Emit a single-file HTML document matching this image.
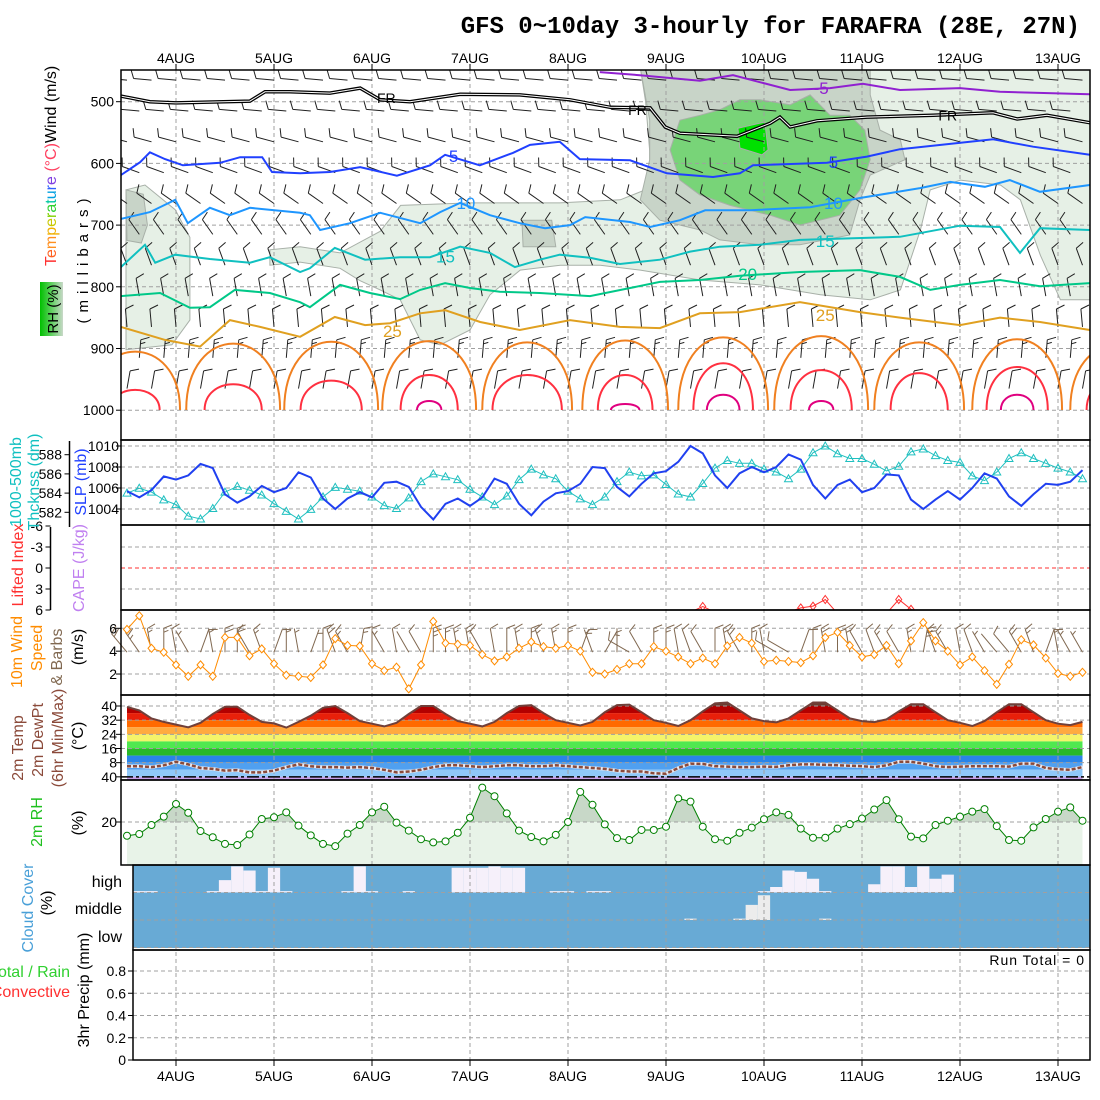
<!DOCTYPE html>
<html><head><meta charset="utf-8"><title>GFS meteogram FARAFRA</title>
<style>
html,body{margin:0;padding:0;background:#fff;}
svg{display:block;}
text{font-family:"Liberation Sans",sans-serif;}
</style></head>
<body>
<svg id="chart" width="1100" height="1100" viewBox="0 0 1100 1100" xmlns="http://www.w3.org/2000/svg">
<defs>
<linearGradient id="rhbox" x1="0" y1="0" x2="1" y2="0"><stop offset="0" stop-color="#00c000"/><stop offset="0.5" stop-color="#60d060"/><stop offset="1" stop-color="#c8d8c8"/></linearGradient>
<clipPath id="clipTop"><rect x="121" y="70" width="969" height="340"/></clipPath>
<clipPath id="clipCape"><rect x="121" y="525" width="969" height="85"/></clipPath>
<clipPath id="clipTempPanel"><rect x="121" y="695" width="969" height="85"/></clipPath>
<clipPath id="clipCloud"><rect x="133" y="865" width="957" height="85"/></clipPath>
<clipPath id="clipTempCurve"><polygon id="tempClipPoly" points=""/></clipPath>
<clipPath id="clipRHabove"><rect x="121" y="780" width="969" height="42"/></clipPath>
</defs>
<rect x="0" y="0" width="1100" height="1100" fill="#fff"/>
<text x="1080" y="33" text-anchor="end" style="font-family:'Liberation Mono',monospace;font-weight:bold;font-size:24px">GFS 0~10day 3-hourly for FARAFRA (28E, 27N)</text>
<g id="gShade" clip-path="url(#clipTop)"></g>
<g id="gFills"></g>
<g id="gGrid"></g>
<g id="gData"></g>
<g id="gFrames"></g>
<g id="gLabels" font-size="14"></g>

<g font-size="16">
<text transform="translate(56,266) rotate(-90)"><tspan fill="#ff3030">T</tspan><tspan fill="#ff6020">e</tspan><tspan fill="#ff9020">m</tspan><tspan fill="#f0b000">p</tspan><tspan fill="#c8c800">e</tspan><tspan fill="#80d000">r</tspan><tspan fill="#30d030">a</tspan><tspan fill="#00c8a0">t</tspan><tspan fill="#00a0e0">u</tspan><tspan fill="#3060ff">r</tspan><tspan fill="#8040e0">e</tspan><tspan fill="#ff4060"> (°C)</tspan><tspan fill="#000">Wind (m/s)</tspan></text>
<rect x="40" y="282" width="23" height="54" fill="url(#rhbox)"/>
<text transform="translate(58,309) rotate(-90)" text-anchor="middle" font-size="15">RH (%)</text>
<text transform="translate(88,258) rotate(-90)" text-anchor="middle" font-size="15" letter-spacing="6">(millibars)</text>
</g>
<g font-size="16">
<text transform="translate(21,482) rotate(-90)" text-anchor="middle" fill="#10c0c0">1000-500mb</text>
<text transform="translate(39,482) rotate(-90)" text-anchor="middle" fill="#10c0c0">Thcknss (dm)</text>
<text transform="translate(86,482) rotate(-90)" text-anchor="middle" fill="#2040ff">SLP (mb)</text>
</g>
<g font-size="16">
<text transform="translate(23,565) rotate(-90)" text-anchor="middle" fill="#ff3030">Lifted Index</text>
<text transform="translate(84,568) rotate(-90)" text-anchor="middle" fill="#c080f0">CAPE (J/kg)</text>
</g>
<g font-size="16">
<text transform="translate(22,652) rotate(-90)" text-anchor="middle" fill="#ff8c00">10m Wind</text>
<text transform="translate(42,648) rotate(-90)" text-anchor="middle" fill="#ff8c00">Speed</text>
<text transform="translate(62,657) rotate(-90)" text-anchor="middle" fill="#806850">&amp; Barbs</text>
<text transform="translate(83,647) rotate(-90)" text-anchor="middle">(m/s)</text>
</g>
<g font-size="16" fill="#8b4a3a">
<text transform="translate(23,748) rotate(-90)" text-anchor="middle">2m Temp</text>
<text transform="translate(43,740) rotate(-90)" text-anchor="middle">2m DewPt</text>
<text transform="translate(63,738) rotate(-90)" text-anchor="middle">(6hr Min/Max)</text>
<text transform="translate(83,736) rotate(-90)" text-anchor="middle" fill="#000">(°C)</text>
</g>
<g font-size="16">
<text transform="translate(42,822) rotate(-90)" text-anchor="middle" fill="#20c020">2m RH</text>
<text transform="translate(83,823) rotate(-90)" text-anchor="middle">(%)</text>
</g>
<g font-size="16">
<text transform="translate(33,908) rotate(-90)" text-anchor="middle" fill="#4aa0d8">Cloud Cover</text>
<text transform="translate(52,903) rotate(-90)" text-anchor="middle">(%)</text>
<text x="122" y="887" text-anchor="end">high</text>
<text x="122" y="914" text-anchor="end">middle</text>
<text x="122" y="942" text-anchor="end">low</text>
</g>
<g font-size="16">
<text x="70" y="977" text-anchor="end" fill="#30d030">Total / Rain</text>
<text x="70" y="997" text-anchor="end" fill="#ff3030">Convective</text>
<text transform="translate(89,990) rotate(-90)" text-anchor="middle">3hr Precip (mm)</text>
<text x="1085" y="965" text-anchor="end" font-size="14" letter-spacing="1">Run Total = 0</text>
</g>
</svg>

<script>
// ---------- DATA ----------
const dateLabels = ["4AUG","5AUG","6AUG","7AUG","8AUG","9AUG","10AUG","11AUG","12AUG","13AUG"];
const startHour = -12;
const stepHours = 3;
const slp = [1005.7,1005.1,1005.8,1007.1,1006.8,1007.2,1008.3,1007.9,1005.4,1004.6,
1005.2,1006.2,1005.6,1006,1007.5,1007,1005,1004,1005,1005.6,
1005.1,1006.5,1006.6,1006.1,1004.2,1003,1004.5,1005,1004.3,1005.1,
1006.9,1006.4,1004.5,1003.4,1004.7,1005.5,1005.7,1006.4,1008,1007.9,
1006.1,1005.2,1006.4,1007.4,1007.6,1008.5,1010,1009.3,1007.2,1006,
1007.4,1008,1007.5,1008,1009.2,1008.7,1006.3,1005,1006.3,1006.8,
1005.6,1006,1007.3,1007.2,1004.9,1004,1004.9,1005.7,1004.9,1006,
1007.4,1006.9,1005.2,1004.3,1005.4,1006.4,1006.3,1006.6,1007.7];
const thickness = [584.0,584.5,584.1,583.3,582.8,581.6,581.3,582.4,584.1,584.7,
584.3,583.8,582.9,582.1,581.3,582.3,583.6,584.6,584.4,584.2,
583.6,582.7,582.4,583.5,585.2,586,585.7,585.4,584.4,583.6,
582.8,583.7,585.4,586.5,585.9,585.5,584.2,583.4,582.8,583.6,
585.2,586.2,585.8,585.9,584.9,583.9,583.6,585,586.6,587.4,
587.1,587.1,586.5,586.2,585.5,586.5,588.2,588.9,588.1,587.6,
587.6,587,586.3,586.8,588.3,588.6,587.9,587.4,587.2,585.8,
585.3,586.2,587.6,588.2,587.6,587.1,586.6,586.2,585.5];
const liftedIndex = [9,9,9,9,9,9,9,9,9,9, 9,9,9,9,9,9,9,9,9,9, 9,9,9,9,9,9,9,9,9,9,
9,9,9,9,9,9,9,9,9,9, 9,9,9,9,9,9,6.3,5.5,6.3,9, 9,9,9,9,6.3,5.7,5.45,4.5,6.5,9,
9,9,6.5,4.5,5.9,6.5,9,9,9,9, 9,9,9,9,9,9,9,9,9];
const windSpeed = [5.9,7.1,4.25,3.9,2.8,1.8,2.8,1.8,5.2,5.2,
3.6,4.2,2.9,1.9,1.8,1.7,2.8,5.1,4.5,4.45,
2.9,2.3,2.6,0.7,2.8,6.6,4.7,4.6,4.5,3.7,
3.15,3.5,4.25,4.8,4.4,4.25,4.5,4.0,2.15,2.0,
2.4,2.9,2.9,4.4,4.0,3.5,2.9,3.4,2.9,4.45,
5.2,4.7,3.1,3.2,3.1,3.0,3.6,5.2,5.65,4.5,
3.5,3.7,4.5,2.9,4.9,6.5,4.9,4.0,2.8,3.5,
2.3,1.1,2.85,5.0,4.55,3.4,2.05,1.8,2.15];
const windDir = [320,325,350,0,350,330,20,350,0,0, 330,340,20,0,350,20,0,340,330,10,
0,330,350,330,330,0,0,350,350,330, 350,0,350,0,340,350,0,20,340,30,
0,300,330,0,0,350,340,330,0,350, 330,0,350,300,300,20,0,350,0,350,
330,340,330,330,350,10,340,330,350,340, 330,320,320,330,340,20,350,330,330];
const temp2m = [39.5,37.5,33,31,
29.5,28,30.5,35.5,39.6,39.6,35,31,
30.2,27.8,31,34.5,39,40,36,31.5,
30,28.5,30.5,35.5,40,40,35.5,31.5,
30,28.5,31,36,40,40.5,36,32,
30.5,29,31,36.5,40.5,40.8,36.5,32,
30.5,28.7,32,37,41.5,42,37.5,33,
31.5,30.8,33,37.5,42,42,37.5,33,
31.5,30.9,32.5,37,41,41,36.5,32,
30.5,28.7,31.5,36.5,41,41,36.5,32,
30,29.2,31];
const dewpt2m = [6,6,5.5,6.5,8.5,7,5,4.5,3.5,3.8,2.5,2.5,3.5,5.5,7,6,5.5,5.5,5.2,5.5,
5,4,2.5,3,4,5.5,6.5,6.5,6,5.5,6,6.5,6.5,6,6,6.5,6,5.5,5,
4.5,3.5,3,3,2,1.8,5,7.5,7.3,6,5.8,5.5,5.5,5.8,5.6,6.5,7,7,6.8,6.5,
6.3,6,5.5,6.5,8.5,8.5,7.5,6,5.5,5.8,6,6,6,5.8,7.5,7.5,5,4.3,4,5.5];
const rh2m = [13.6,14.4,18.6,22.5,28.4,24.3,15.8,12.9,9.8,9.3,14.2,21.4,22.2,24.5,18.3,13.8,9.8,8.8,14.6,18.6,24.5,27.1,19.7,
16,12,10.5,11,15,22,36,32,24,16,13,11,14,20,34,28,
18.9,12.5,11.6,16.3,16.3,17.8,31,29.5,17.8,12,11.3,15,17.4,21.3,24.5,23.3,16.9,12.7,12.7,16.9,
19,21.6,25.8,30.2,21.3,13.2,12.4,18.6,20.6,22.5,24.8,26,18.1,11.6,11.3,17.5,21.4,24.8,26.8,20.6];
const cloudHigh = [5,5,5,0,0,0,0,5,45,95, 80,5,90,5,0,0,0,0,5,95, 5,0,0,5,0,0,0,90,90,90,
95,90,90,0,0,5,5,0,5,5, 0,0,0,0,0,0,0,0,0,0, 0,0,5,20,80,75,50,5,0,0,
0,30,95,95,20,95,50,65,0,0, 0,0,0,0,0,0,0,0,0];
const cloudMid = [0,0,0,0,0,0,0,0,0,0, 0,0,0,0,0,0,0,0,0,0, 0,0,0,0,0,0,0,0,0,0,
0,0,0,0,0,0,0,0,0,0, 0,0,0,0,0,0,5,0,0,0, 5,55,90,0,0,0,0,5,0,0,
0,0,0,0,0,0,0,0,0,0, 0,0,0,0,0,0,0,0,0];
const cloudLow = new Array(79).fill(0);
const cM5H = [103.8,113.6,128.3,136.4,150.4,160.2,168.2,177.3,192,201.8,223.8];
const cM5P = [452,457,466,457,481,478,471,481,478,484,488];
const cFRH = [-13.5,-6.4,0,18.1,21.8,27.9,37.7,45.1,50,57.3,69.6,84.2,96.5,106.3,116.1,119.8,123.4,137.4,145.5,147.9,150.4,157,169.2,185.4,200.1,206,213.3,223.8];
const cFRP = [491,500,502,499,484,484,486,478,497,500,488,489,497,509,510,541,551,556,535,525,541,531,525,522,518,528,522,534];
const c5H = [-13.5,-8.8,-6.4,-2.7,1.7,10.8,15.7,21.1,23.5,30.4,37.7,45.1,54.1,62.2,65.9,74.4,82.5,86.7,94,98.9,111.2,120.2,131.5,138.1,141.3,159.4,169.2,177.3,200.1,209.9,223.8];
const c5P = [619,598,582,593,603,599,590,590,614,616,614,606,620,603,586,603,583,570,565,593,595,616,622,616,603,599,589,577,561,573,586];
const c10H = [-13.5,-6.4,-0.2,2.9,8.3,13.2,18.1,30.4,32.8,35.3,42.6,50,59.8,64.7,69.6,76.9,84.2,90.4,96.5,100.2,111.2,116.1,123.4,129.6,140.6,155.3,167.5,182.2,189.6,198.1,204.2,211.6,223.8];
const c10P = [690,679,659,697,672,684,672,680,684,708,697,680,697,679,664,684,697,705,700,687,695,703,692,676,676,671,656,640,630,638,627,646,635];
const c15H = [-13.5,-7.6,-5.1,-0.2,8.3,18.1,23,30.4,32.8,38.9,46.3,54.9,62.2,69.6,76.9,83,89.1,94,101.4,108.7,118.5,125.9,133.2,143,152.8,177.3,192,201.8,206.7,211.6,223.8];
const c15P = [768,732,761,748,755,761,752,776,770,737,756,752,752,735,745,768,756,748,753,763,756,743,735,732,724,719,701,703,745,705,708];
const c20H = [-13.5,-3.9,3.4,8.3,14.4,23,30.4,32.8,40.2,47.5,54.9,59.8,65.9,72,79.3,89.1,101.4,111.2,118.5,128.3,138.1,152.8,167.5,177.3,184.7,192,201.8,211.6,223.8];
const c20P = [815,810,834,833,805,810,825,833,797,810,820,805,794,802,808,810,815,802,792,789,782,776,773,784,805,797,789,799,794];
const c25H = [-13.5,-2.7,5.9,13.2,20.6,30.4,38.9,46.3,52.4,59.8,65.9,74.5,84.2,96.5,108.7,118.5,128.3,138.1,152.8,167.5,177.3,192,201.8,211.6,223.8];
const c25P = [865,886,897,854,865,881,849,862,859,843,838,857,870,854,865,867,843,841,825,841,850,862,850,857,870];
const archCenter = [-10,14,38,62,86,110,134,158,182,206,230];
const arch30Half = [11,11.5,11.5,11.5,11,10.5,11,11.5,11,11,11];
const arch30Top = [905,892,889,888,890,887,882,880,890,885,895];
const arch35Half = [6,7,7.5,7,8.5,6.7,7.3,7.5,7,7.5,7];
const arch35Top = [967,958,952,943,943,943,924,935,940,930,950];
const arch40Half = [0,0,0,3,0,3.5,4,3,0,4,0];
const arch40Top = [1000,1000,1000,985,1000,990,975,985,1000,975,1000];
const contourLabels = ["-5","FR","FR","FR","5","5","10","10","15","15","20","25","25"];
const contourLabelH = [158,51.5,113,189,68,161,71,161,66,159,140,53,159];
const contourLabelP = [478,492,512,521,588,598,664,664,751,726,779,872,846];
const contourLabelColor = ["#9020d0","#000","#000","#000","#2040ff","#2040ff","#1e96ff","#1e96ff","#10c0c0","#10c0c0","#00c888","#e0a020","#e0a020"];
const rhLightA = [[-12.25,643],[-7.6,635],[-0.2,675],[3.4,720],[3.4,854],[-1,894],[-12.25,902]];
const rhLightB = [[113.7,445],[224,445],[224,821],[216.6,821],[211.7,749],[206.8,659],[201.9,635],[192.1,627],[184.7,643],[182.3,708],[177.4,805],[170,821],[157.8,813],[143.1,797],[128.4,789],[113.7,773],[103.9,765],[94.1,765],[84.3,773],[76.9,813],[72,870],[64.7,894],[59.8,886],[54.9,821],[50,805],[45,790],[40.2,770],[30.4,760],[23,765],[23,740],[30.4,735],[40.2,745],[50,710],[55,668],[72,664],[94,664],[108.8,659],[116,640],[116,580],[115,500]];
const rhGrey = [[113.7,445],[170,445],[170,489],[172.4,546],[177.4,562],[178.5,594],[170,619],[167.5,659],[165,716],[152.8,732],[143,732],[133.2,724],[128.4,708],[118.5,692],[113.7,659],[116,594],[116,530]];
const rhGreySmall1 = [[-12.25,643],[-8,650],[-7,700],[-8.5,729],[-12,725]];
const rhGreySmall2 = [[84.7,692],[92,692],[93,735],[85,735]];
const rhGreen = [[123.4,530],[128.3,522],[133.2,513],[138.1,497],[143,497],[150.4,505],[155.3,489],[157.7,505],[160.2,522],[165,522],[168.7,546],[170,594],[167.5,643],[162.6,684],[152.8,700],[145.5,684],[135.7,668],[128.3,651],[123.4,627],[121,578]];
const rhBright = [[137.6,543],[144.2,533],[145,578],[143.5,586],[138.1,575]];
const barbLevels = [465,515,565,615,665,715,765,815,865,915,965];
const barbDir = [275,275,285,290,305,325,340,350,355,5,10];
const barbSpd = [6,6,6,6,5,5,5,6,7,8,6];
const presTicks = [500,600,700,800,900,1000];
const slpTicks = [1004,1006,1008,1010];
const thkTicks = [582,584,586,588];
const liTicks = [-6,-3,0,3,6];
const windTicks = [2,4,6];
const tempTicks = [8,16,24,32,40];
const rhTicks = [20];
const precipTicks = [0,0.2,0.4,0.6,0.8];
const tempBandLo = [40,36,32,28,24,20,16,12,8,4,0,-4];
const tempBandColor = ["#6e3b30","#b30000","#e8200a","#ff6a00","#ffaa40","#f4f46a","#50e850","#28b828","#2a84e8","#50a0f0","#90c8f8","#c8a0e8"];

// ---------- AXES ----------
const NS = 'http://www.w3.org/2000/svg';
const X = h => 176 + h * 98 / 24;
const H = i => startHour + stepHours * i;
const pY = p => 101.7 + (p - 500) * 0.617;
const slpY = v => 446 + (1010 - v) * 10.5;
const thkY = v => 454.7 + (588 - v) * 9.6;
const liY = v => 568 + v * 7;
const wY = v => 628.3 + (6 - v) * 11.43;
const tY = v => 706 + (40 - v) * 1.771;
const rhY = v => 865 - v * 2.15;
const pcY = v => 1060 - v * 111.25;
const cloudBottoms = [892.5, 920, 947.5];
const cloudScale = 0.275;

function mk(tag, attrs, parent) {
  const e = document.createElementNS(NS, tag);
  for (const k in attrs) e.setAttribute(k, attrs[k]);
  parent.appendChild(e);
  return e;
}
const gShade = document.getElementById('gShade');
const gFills = document.getElementById('gFills');
const gGrid = document.getElementById('gGrid');
const gData = document.getElementById('gData');
const gFrames = document.getElementById('gFrames');
const gLabels = document.getElementById('gLabels');
const ptsStr = arr => arr.map(p => p[0].toFixed(1) + ',' + p[1].toFixed(1)).join(' ');
const polyHP = poly => ptsStr(poly.map(q => [X(q[0]), pY(q[1])]));
function linePath(hs, ps) { return hs.map((h, k) => (k ? 'L' : 'M') + X(h).toFixed(1) + ',' + pY(ps[k]).toFixed(1)).join(''); }

[[rhLightA,'#e6f0e6','rh-shade-light-left'],[rhLightB,'#e6f0e6','rh-shade-light'],[rhGrey,'#c8d4c8','rh-shade-grey'],[rhGreySmall1,'#c8d4c8','rh-shade-grey-left'],[rhGreySmall2,'#c8d4c8','rh-shade-grey-mid'],[rhGreen,'#78d478','rh-shade-green'],[rhBright,'#00e000','rh-shade-bright']].forEach(s => {
  const e = mk('polygon', {points: polyHP(s[0]), fill: s[1], stroke: '#a8b0a8', 'stroke-width': 1}, gShade);
  
  
});

const gridStyle = {stroke: '#a0a0a0', 'stroke-width': 1, 'stroke-dasharray': '4,3', fill: 'none'};
function hline(y, x1, name, color) {
  const e = mk('line', Object.assign({}, gridStyle, {x1: x1, x2: 1090, y1: y, y2: y}), gGrid);
  if (color) e.setAttribute('stroke', color);
  
  
}
presTicks.forEach(p => hline(pY(p), 121, 'grid-pressure-' + p));
slpTicks.forEach(v => hline(slpY(v), 121, 'grid-slp-' + v));
[-3, 3].forEach(v => hline(liY(v), 121, 'grid-li-' + v));
hline(liY(0), 121, 'li-zero-line', '#ff3030');
windTicks.forEach(v => hline(wY(v), 121, 'grid-wind-' + v));
tempTicks.forEach(v => hline(tY(v), 121, 'grid-temp-' + v));
rhTicks.forEach(v => hline(rhY(v), 121, 'grid-rh-' + v));
precipTicks.slice(1).forEach(v => hline(pcY(v), 133, 'grid-precip-' + v));

const xFirst = X(H(0)), xLast = X(H(temp2m.length - 1));
const tempCurvePts = temp2m.map((t, i) => [X(H(i)), tY(t)]);
document.getElementById('tempClipPoly').setAttribute('points', ptsStr(tempCurvePts.concat([[xLast, 780], [xFirst, 780]])));
const gTempBands = mk('g', {'clip-path': 'url(#clipTempCurve)'}, gFills);


tempBandLo.forEach((lo, k) => {
  const hi = k === 0 ? 50 : tempBandLo[k - 1];
  const y1 = tY(hi), y2 = Math.min(780, tY(lo));
  const r = mk('rect', {x: xFirst, y: y1, width: xLast - xFirst, height: Math.max(0, y2 - y1), fill: tempBandColor[k]}, gTempBands);
  
  
});

const rhPts = rh2m.map((v, i) => [X(H(i)), rhY(v)]);
const rhPolyPts = ptsStr(rhPts.concat([[X(H(rh2m.length - 1)), 865], [X(H(0)), 865]]));
const rhFill = mk('polygon', {points: rhPolyPts, fill: '#e8f3e8'}, gFills);


const rhFill2 = mk('polygon', {points: rhPolyPts, fill: '#c8d8c8', 'clip-path': 'url(#clipRHabove)'}, gFills);



const cloudBg = mk('rect', {x: 133, y: 865, width: 957, height: 83, fill: '#68aad5'}, gFills);


const gCloud = mk('g', {'clip-path': 'url(#clipCloud)'}, gFills);


[[cloudHigh, 0, '#f6f0fa', 'high'], [cloudMid, 1, '#ececec', 'mid'], [cloudLow, 2, '#e0e0e0', 'low']].forEach(L => {
  L[0].forEach((v, i) => {
    if (v <= 0) return;
    const hgt = v * cloudScale;
    const r = mk('rect', {x: X(H(i)) - 6.125, y: cloudBottoms[L[1]] - hgt, width: 12.25, height: hgt, fill: L[2]}, gCloud);
    
    
  });
});
cloudBottoms.forEach((y, k) => hline(y, 133, 'grid-cloud-' + k));

dateLabels.forEach((d, k) => {
  const x = X(24 * k);
  const e = mk('line', Object.assign({}, gridStyle, {x1: x, x2: x, y1: 70, y2: 1060}), gGrid);
  
  
  const t1 = mk('line', {x1: x, x2: x, y1: 64, y2: 70, stroke: '#000'}, gGrid);
  
  
  const t2 = mk('line', {x1: x, x2: x, y1: 1060, y2: 1066, stroke: '#000'}, gGrid);
  
  
  const l1 = mk('text', {x: x, y: 63, 'text-anchor': 'middle'}, gLabels);
  l1.textContent = d;
  
  
  const l2 = mk('text', {x: x, y: 1081, 'text-anchor': 'middle'}, gLabels);
  l2.textContent = d;
  
  
});

const gTop = mk('g', {'clip-path': 'url(#clipTop)', fill: 'none'}, gData);



function barb(parent, x, y, dirDeg, spd, len, color, name) {
  const r = dirDeg * Math.PI / 180;
  const dx = Math.sin(r), dy = -Math.cos(r);
  const ex = x + dx * len, ey = y + dy * len;
  let d = 'M' + x.toFixed(1) + ',' + y.toFixed(1) + 'L' + ex.toFixed(1) + ',' + ey.toFixed(1);
  const bx = Math.sin(r + 1.2), by = -Math.cos(r + 1.2);
  let full = Math.floor(spd / 5), half = (spd % 5) >= 2.5 ? 1 : 0;
  let pos = 0;
  for (let n = 0; n < full; n++) {
    const px = ex - dx * pos, py = ey - dy * pos;
    d += 'M' + px.toFixed(1) + ',' + py.toFixed(1) + 'L' + (px + bx * 9).toFixed(1) + ',' + (py + by * 9).toFixed(1);
    pos += 4;
  }
  if (half) {
    if (full === 0) pos = 4;
    const px = ex - dx * pos, py = ey - dy * pos;
    d += 'M' + px.toFixed(1) + ',' + py.toFixed(1) + 'L' + (px + bx * 5).toFixed(1) + ',' + (py + by * 5).toFixed(1);
  }
  const e = mk('path', {d: d, stroke: color, 'stroke-width': 1, fill: 'none'}, parent);
  
  
}
barbLevels.forEach((p, k) => {
  for (let h = startHour + (k % 2) * 3; h <= 222; h += 6) {
    barb(gTop, X(h), pY(p), barbDir[k], barbSpd[k], 18, '#202020', 'upper-wind-barb');
  }
});

function archPath(c, half, top) {
  const xl = X(c - half), xr = X(c + half), yb = pY(1000), yt = pY(top);
  const yc = yb + (yt - yb) * 4 / 3;
  return 'M' + xl + ',' + (yb + 2) + 'L' + xl + ',' + yb + 'C' + xl + ',' + yc + ' ' + xr + ',' + yc + ' ' + xr + ',' + yb + 'L' + xr + ',' + (yb + 2);
}
archCenter.forEach((c, k) => {
  const a30 = mk('path', {d: archPath(c, arch30Half[k], arch30Top[k]), stroke: '#f08020', 'stroke-width': 2}, gTop);
  
  
  const a35 = mk('path', {d: archPath(c, arch35Half[k], arch35Top[k]), stroke: '#ff3040', 'stroke-width': 2}, gTop);
  
  
  if (arch40Half[k] > 0) {
    const a40 = mk('path', {d: archPath(c, arch40Half[k], arch40Top[k]), stroke: '#e0007f', 'stroke-width': 2}, gTop);
    
    
  }
});
const frOuter = mk('path', {d: linePath(cFRH, cFRP), stroke: '#000', 'stroke-width': 3.5}, gTop);


const frInner = mk('path', {d: linePath(cFRH, cFRP), stroke: '#fff', 'stroke-width': 1}, gTop);


[[cM5H, cM5P, '#9020d0', 'contour-minus5c'], [c5H, c5P, '#2040ff', 'contour-5c'], [c10H, c10P, '#1e96ff', 'contour-10c'], [c15H, c15P, '#10c0c0', 'contour-15c'], [c20H, c20P, '#00c888', 'contour-20c'], [c25H, c25P, '#e0a020', 'contour-25c']].forEach(c => {
  const e = mk('path', {d: linePath(c[0], c[1]), stroke: c[2], 'stroke-width': 2}, gTop);
  
  
});
contourLabels.forEach((s, k) => {
  const t = mk('text', {x: X(contourLabelH[k]), y: pY(contourLabelP[k]) + 6, 'text-anchor': 'middle', fill: contourLabelColor[k], 'font-size': s === 'FR' ? 14 : 17}, gTop);
  t.textContent = s;
  
  
});

function seriesPath(vals, yf) { return vals.map((v, i) => (i ? 'L' : 'M') + X(H(i)).toFixed(1) + ',' + yf(v).toFixed(1)).join(''); }
const thkLine = mk('path', {d: seriesPath(thickness, thkY), stroke: '#20c0c0', 'stroke-width': 1, fill: 'none'}, gData);


thickness.forEach((v, i) => {
  const x = X(H(i)), y = thkY(v);
  const m = mk('polygon', {points: x + ',' + (y - 4) + ' ' + (x - 4) + ',' + (y + 3) + ' ' + (x + 4) + ',' + (y + 3), fill: 'none', stroke: '#20c0c0', 'stroke-width': 1}, gData);
  
  
});
const slpLine = mk('path', {d: seriesPath(slp, slpY), stroke: '#2040f0', 'stroke-width': 2, fill: 'none'}, gData);



const gLI = mk('g', {'clip-path': 'url(#clipCape)'}, gData);


const liLine = mk('path', {d: seriesPath(liftedIndex, liY), stroke: '#ff3030', 'stroke-width': 1, fill: 'none'}, gLI);


liftedIndex.forEach((v, i) => {
  if (v > 6.2) return;
  const x = X(H(i)), y = liY(v);
  const m = mk('polygon', {points: x + ',' + (y - 4) + ' ' + (x + 3) + ',' + y + ' ' + x + ',' + (y + 4) + ' ' + (x - 3) + ',' + y, fill: 'none', stroke: '#ff3030'}, gLI);
  
  
});

windSpeed.forEach((v, i) => {
  barb(gData, X(H(i)), wY(4) + 1, windDir[i], v * 2, 24, '#806850', 'surface-wind-barb');
});
const wLine = mk('path', {d: seriesPath(windSpeed, wY), stroke: '#ff8c00', 'stroke-width': 1, fill: 'none'}, gData);


windSpeed.forEach((v, i) => {
  const x = X(H(i)), y = wY(v);
  const m = mk('polygon', {points: x + ',' + (y - 4) + ' ' + (x + 3.5) + ',' + y + ' ' + x + ',' + (y + 4) + ' ' + (x - 3.5) + ',' + y, fill: '#fff', stroke: '#ff8c00'}, gData);
  
  
});

const tLine = mk('path', {d: seriesPath(temp2m, tY), stroke: '#70403a', 'stroke-width': 2, fill: 'none'}, gData);


const dpBack = mk('path', {d: seriesPath(dewpt2m, tY), stroke: '#e8e8f0', 'stroke-width': 3.5, fill: 'none'}, gData);


const dpLine = mk('path', {d: seriesPath(dewpt2m, tY), stroke: '#8a4a3a', 'stroke-width': 2.5, fill: 'none', 'stroke-dasharray': '4,2'}, gData);


const zeroLine = mk('line', {x1: 121, x2: 1090, y1: tY(0), y2: tY(0), stroke: '#000', 'stroke-width': 1.5, 'stroke-dasharray': '12,3,3,3'}, gData);



const rhLine = mk('path', {d: seriesPath(rh2m, rhY), stroke: '#008000', 'stroke-width': 1, fill: 'none'}, gData);


rh2m.forEach((v, i) => {
  const c = mk('circle', {cx: X(H(i)), cy: rhY(v), r: 3.5, fill: '#fff', stroke: '#008000'}, gData);
  
  
});

[[121,70,969,370,'upper-air-frame'],[121,440,969,85,'slp-frame'],[121,525,969,85,'cape-frame'],[121,610,969,85,'wind-frame'],[121,695,969,85,'temp-frame'],[121,780,969,85,'rh-frame'],[133,865,957,85,'cloud-frame'],[133,950,957,110,'precip-frame']].forEach(f => {
  const r = mk('rect', {x: f[0], y: f[1], width: f[2], height: f[3], fill: 'none', stroke: '#000', 'stroke-width': 1.5}, gFrames);
  
  
});
const thkAxis = mk('line', {x1: 69.5, x2: 69.5, y1: 441, y2: 527, stroke: '#000', 'stroke-width': 1.5}, gFrames);


const liAxis = mk('line', {x1: 50.5, x2: 50.5, y1: 527, y2: 610, stroke: '#000', 'stroke-width': 1.5}, gFrames);



function tick(x, y, txt, name, axisX) {
  const t = mk('text', {x: x, y: y + 5, 'text-anchor': 'end'}, gLabels);
  t.textContent = txt;
  
  
  const m = mk('line', {x1: axisX - 5, x2: axisX, y1: y, y2: y, stroke: '#000'}, gLabels);
  
  
}
presTicks.forEach(p => tick(114, pY(p), String(p), 'pressure-tick', 121));
slpTicks.forEach(v => tick(119, slpY(v), String(v), 'slp-tick', 121));
thkTicks.forEach(v => tick(62, thkY(v), String(v), 'thickness-tick', 69.5));
liTicks.forEach(v => tick(43, liY(v), String(v), 'lifted-index-tick', 50.5));
windTicks.forEach(v => tick(117, wY(v), String(v), 'wind-tick', 121));
tempTicks.forEach(v => tick(117, tY(v), String(v), 'temp-tick', 121));
tick(117, tY(0), '40', 'temp-tick-bottom', 121);
rhTicks.forEach(v => tick(117, rhY(v), String(v), 'rh-tick', 121));
precipTicks.forEach(v => tick(126, pcY(v), v === 0 ? '0' : v.toFixed(1), 'precip-tick', 133));
</script>
</body></html>
